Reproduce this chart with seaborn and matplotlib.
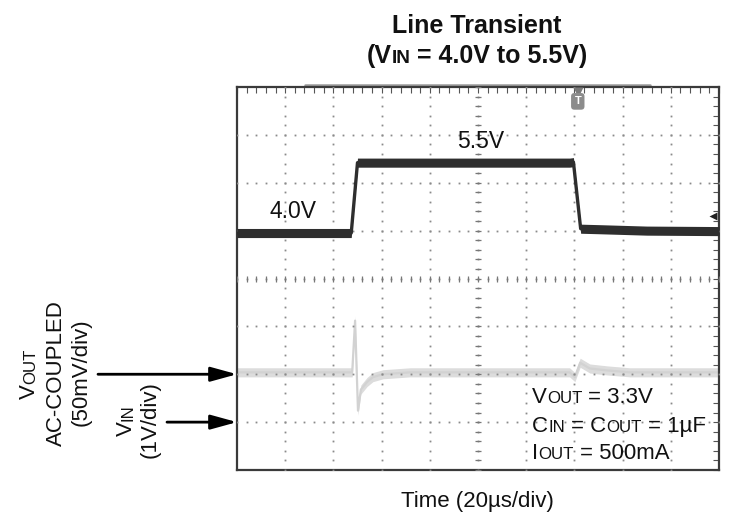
import matplotlib
matplotlib.use("Agg")
import numpy as np
import pandas as pd
import matplotlib.pyplot as plt
import seaborn as sns

# scope settings
US_PER_DIV = 20          # time base
VIN_V_PER_DIV = 1.0      # channel 1
VOUT_MV_PER_DIV = 50     # channel 2, AC coupled
VIN_GND_DIV = -3.0       # ground marker of VIN
VOUT_GND_DIV = -2.0      # ground marker of VOUT

# VIN trace breakpoints (time in us, volts)
vin_t = [0, 47.4, 50.0, 138.0, 139.6, 142.6, 150.0, 170.0, 200.0]
vin_v = [3.95, 3.95, 5.42, 5.42, 5.43, 4.04, 4.03, 4.00, 3.99]

# VOUT trace breakpoints (time in us, mV around the DC level)
vout_t = [0, 47.8, 49.0, 50.2, 51.4, 54.0, 56.4, 60.6, 71.8,
          138.0, 140.2, 142.4, 146.4, 153.6, 163.0, 200.0]
vout_mv = [2, 2, 56, -38, -16, -8, -3, 0, 2,
           2, -3, 12, 6, 4, 2, 2]

trig_t = 141.4        # trigger position (us)
trig_level_v = 4.3    # trigger level on VIN (V)

W, H, DPI = 730, 519, 100

sns.set_style("white")
plt.rcParams['font.family'] = ['Liberation Sans', 'DejaVu Sans']

fig = plt.figure(figsize=(W / DPI, H / DPI), dpi=DPI, facecolor='white')
ax = fig.add_axes([237 / W, 1 - 470 / H, 482 / W, 383 / H])

df_vin = pd.DataFrame({'t': vin_t, 'div': np.array(vin_v) / VIN_V_PER_DIV + VIN_GND_DIV})
df_vout = pd.DataFrame({'t': vout_t, 'div': np.array(vout_mv) / VOUT_MV_PER_DIV + VOUT_GND_DIV})

# graticule: dotted lines every division, ticks every 0.2 div
xmax = 10 * US_PER_DIV
minor_x = np.arange(0, xmax + 0.1, US_PER_DIV / 5)
minor_y = np.arange(-4, 4.01, 0.2)
for gx in np.arange(US_PER_DIV, xmax, US_PER_DIV):
    ax.plot(np.full_like(minor_y, gx), minor_y, ls='none', marker='s', ms=1.3,
            color='#8a8a8a', mec='none', zorder=3)
for gy in np.arange(-3, 4, 1):
    ax.plot(minor_x, np.full_like(minor_x, gy), ls='none', marker='s', ms=1.3,
            color='#8a8a8a', mec='none', zorder=3)
ax.plot(minor_x, np.zeros_like(minor_x), ls='none', marker='|', ms=5, mew=0.9,
        color='#777777', zorder=3)
ax.plot(np.full_like(minor_y, xmax / 2), minor_y, ls='none', marker='_', ms=5, mew=0.9,
        color='#777777', zorder=3)

# traces: noise band plus a thin core line
band = 0.095
ax.fill_between(df_vout['t'], df_vout['div'] - band, df_vout['div'] + band,
                color='#dcdcdc', lw=0, zorder=2)
sns.lineplot(data=df_vout, x='t', y='div', ax=ax, color='#d2d2d2', lw=1.6,
             sort=False, estimator=None, zorder=2)
ax.fill_between(df_vin['t'], df_vin['div'] - band, df_vin['div'] + band,
                color='#2e2e2e', lw=0, zorder=4)
sns.lineplot(data=df_vin, x='t', y='div', ax=ax, color='#2e2e2e', lw=2.4,
             sort=False, estimator=None, zorder=4)

ax.set_xlim(0, xmax)
ax.set_ylim(-4, 4)
ax.set_xticks(np.arange(0, xmax + 1, US_PER_DIV))
ax.set_xticks(minor_x, minor=True)
ax.set_yticks(np.arange(-4, 5, 1))
ax.set_yticks(minor_y, minor=True)
ax.tick_params(which='both', direction='in', length=4, width=0.8, color='#555555',
               top=True, right=True, labelbottom=False, labelleft=False)
ax.set_xlabel('')
ax.set_ylabel('')
for sp in ax.spines.values():
    sp.set_color('#3a3a3a')
    sp.set_linewidth(1.6)

# record bar above the screen, trigger markers
ax.plot([28.2, 171.4], [4.045, 4.045], color='#9a9a9a', lw=1.8, clip_on=False, zorder=1)
ax.plot([trig_t], [3.9], marker='v', ms=7, color='#7a7a7a', mec='none', clip_on=False, zorder=6)
ax.text(trig_t, 3.7, 'T', ha='center', va='center', fontsize=8, fontweight='bold',
        color='white', zorder=6,
        bbox=dict(boxstyle='round,pad=0.3', fc='#8c8c8c', ec='none'))
ax.plot([xmax * 0.988], [trig_level_v / VIN_V_PER_DIV + VIN_GND_DIV], marker='<', ms=6,
        color='#222222', mec='none', zorder=6)

# ground arrows
arrow = dict(arrowstyle='-|>,head_length=0.8,head_width=0.22', color='black', lw=2,
             mutation_scale=20, shrinkA=0, shrinkB=0)
ax.annotate('', xy=(0, VOUT_GND_DIV), xytext=(98 / W, VOUT_GND_DIV),
            textcoords=('figure fraction', 'data'), arrowprops=arrow, annotation_clip=False)
ax.annotate('', xy=(0, VIN_GND_DIV), xytext=(167 / W, VIN_GND_DIV),
            textcoords=('figure fraction', 'data'), arrowprops=arrow, annotation_clip=False)

renderer = fig.canvas.get_renderer()


def run_width(s, size, weight):
    t1 = fig.text(0, 0, 'x' + s + 'x', fontsize=size, fontweight=weight)
    t2 = fig.text(0, 0, 'xx', fontsize=size, fontweight=weight)
    w = t1.get_window_extent(renderer).width - t2.get_window_extent(renderer).width
    t1.remove()
    t2.remove()
    return w


def rich_text(x, y, runs, ha='left', rotation=0, weight='normal'):
    # x, y in pixels from the top-left corner, y is the baseline
    widths = [run_width(s, size, weight) for s, size in runs]
    total = sum(widths)
    pos = -{'left': 0, 'center': total / 2, 'right': total}[ha]
    for (s, size), w in zip(runs, widths):
        lead = len(s) - len(s.lstrip(' '))
        shift = run_width(s[:lead], size, weight) if lead else 0
        p = pos + shift
        px, py = (x, y - p) if rotation == 90 else (x + p, y)
        fig.text(px / W, 1 - py / H, s.lstrip(' '), fontsize=size, fontweight=weight,
                 rotation=rotation, rotation_mode='anchor', ha='left', va='baseline',
                 color='#111111')
        pos += w


BIG, SMALL = 16, 12.2
rich_text(477, 33, [('Line Transient', 18)], ha='center', weight='bold')
rich_text(477, 63, [('(V', 18), ('IN', 13.7), (' = 4.0V to 5.5V)', 18)], ha='center', weight='bold')

rich_text(270, 218, [('4.0V', 16.5)])
rich_text(457, 148, [('5.5V', 16.5)])
rich_text(477, 507, [('Time (20µs/div)', BIG)], ha='center')

rich_text(532, 403, [('V', BIG), ('OUT', SMALL), (' = 3.3V', BIG)])
rich_text(532, 432, [('C', BIG), ('IN', SMALL), (' = C', BIG), ('OUT', SMALL), (' = 1µF', BIG)])
rich_text(532, 459, [('I', BIG), ('OUT', SMALL), (' = 500mA', BIG)])

rich_text(35, 374, [('V', BIG), ('OUT', SMALL)], ha='center', rotation=90)
rich_text(62, 373, [('AC-COUPLED', BIG)], ha='center', rotation=90)
rich_text(87, 372, [('(50mV/div)', BIG)], ha='center', rotation=90)
rich_text(132, 420, [('V', BIG), ('IN', SMALL)], ha='center', rotation=90)
rich_text(156, 420, [('(1V/div)', BIG)], ha='center', rotation=90)

fig.savefig('out.png', dpi=DPI, facecolor='white')
